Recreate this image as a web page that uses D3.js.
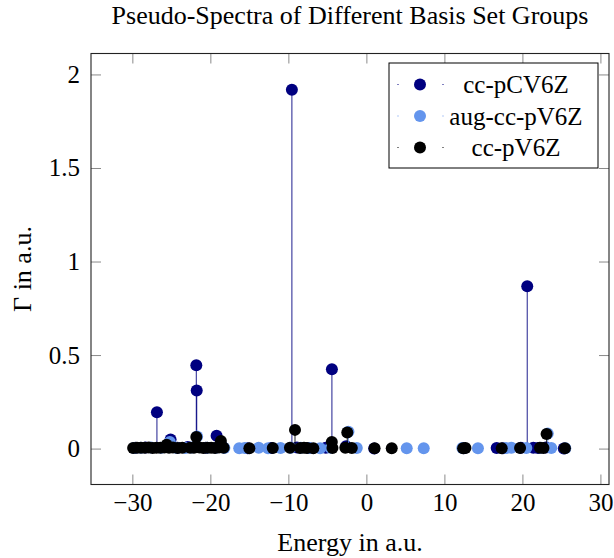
<!DOCTYPE html>
<html>
<head>
<meta charset="utf-8">
<script src="https://cdn.jsdelivr.net/npm/d3@7"></script>
<style>
  html, body { margin: 0; padding: 0; background: #fff; }
  svg text { font-family: "Liberation Serif", "DejaVu Serif", serif; fill: #000; }
</style>
</head>
<body>
<svg id="chart" width="614" height="558"></svg>
<script>
// ---------------- data ----------------
const seriesNames = ["cc-pCV6Z", "aug-cc-pV6Z", "cc-pV6Z"];

const pcv6zX = [-29.6, -28.3, -26.85, -25.1, -24.2, -22.9, -21.8, -21.75, -20.6, -19.2, -18.5, -15.2, -12.2, -9.55, -8.9, -7.4, -5.2, -4.42, -2.6, 1.0, 12.5, 16.7, 17.5, 19.8, 20.62, 21.4, 22.0, 23.0, 25.3];
const pcv6zY = [0.004, 0.006, 0.194, 0.048, 0.005, 0.008, 0.445, 0.310, 0.004, 0.068, 0.012, 0.002, 0.003, 1.918, 0.006, 0.003, 0.004, 0.424, 0.012, 0.001, 0.002, 0.003, 0.002, 0.004, 0.868, 0.005, 0.003, 0.006, 0.001];

const augX = [-29.8, -28.9, -27.6, -26.3, -25.2, -24.4, -23.2, -22.4, -21.7, -20.4, -19.3, -18.2, -16.3, -15.6, -13.8, -12.6, -11.0, -9.7, -8.4, -7.3, -5.93, -4.6, -2.3, -1.23, 5.17, 7.35, 12.3, 14.3, 17.9, 18.6, 20.5, 22.4, 23.25, 23.7, 25.5];
const augY = [0.003, 0.004, 0.006, 0.005, 0.035, 0.004, 0.003, 0.006, 0.064, 0.004, 0.005, 0.003, 0.002, 0.003, 0.004, 0.002, 0.003, 0.005, 0.004, 0.003, 0.002, 0.004, 0.090, 0.003, 0.002, 0.002, 0.003, 0.002, 0.003, 0.004, 0.003, 0.004, 0.080, 0.003, 0.002];

const pv6zX = [-29.9, -29.4, -28.9, -28.4, -27.9, -27.4, -26.9, -26.4, -25.9, -25.6, -25.3, -24.8, -24.2, -23.6, -22.6, -22.1, -21.8, -21.4, -20.9, -20.4, -19.9, -19.4, -18.9, -18.65, -18.3, -15.0, -12.0, -9.8, -9.15, -8.5, -8.0, -7.6, -6.8, -4.43, -4.35, -2.7, -2.45, -1.87, 1.05, 3.25, 12.4, 12.7, 17.35, 19.7, 22.25, 22.7, 23.1, 25.45];
const pv6zY = [0.003, 0.004, 0.005, 0.004, 0.006, 0.003, 0.005, 0.004, 0.006, 0.020, 0.004, 0.006, 0.003, 0.004, 0.005, 0.004, 0.062, 0.006, 0.003, 0.004, 0.005, 0.003, 0.006, 0.041, 0.004, 0.002, 0.003, 0.004, 0.100, 0.003, 0.004, 0.003, 0.002, 0.035, 0.003, 0.004, 0.086, 0.003, 0.002, 0.002, 0.002, 0.003, 0.002, 0.003, 0.004, 0.003, 0.078, 0.002];

const xTicks = [-30, -20, -10, 0, 10, 20, 30];
const yTicks = [0, 0.5, 1, 1.5, 2];
const yTickLabels = ["0", "0.5", "1", "1.5", "2"];

const titleText = "Pseudo-Spectra of Different Basis Set Groups";
const xLabelText = "Energy in a.u.";
const yLabelText = "Γ in a.u.";

// ---------------- layout ----------------
const svg = d3.select("#chart");
const L = 91, R = 609, T = 53.5, B = 484.5;
const labelFont = 26, tickFont = 25, legendFont = 25;

const x = d3.scaleLinear().domain([-35.3, 31.1]).range([L, R]);
const y = d3.scaleLinear().domain([-0.192, 2.112]).range([B, T]);

const series = [
  { name: seriesNames[0], xs: pcv6zX, ys: pcv6zY, color: "#000080", stem: "#000080" },
  { name: seriesNames[1], xs: augX, ys: augY, color: "#6495ED", stem: "#6495ED" },
  { name: seriesNames[2], xs: pv6zX, ys: pv6zY, color: "#000000", stem: "#000000" }
];

svg.append("defs").append("clipPath").attr("id", "clip")
  .append("rect").attr("x", L).attr("y", T).attr("width", R - L).attr("height", B - T);

// axes (ticks inward, mirrored)
const tickColor = "#8a8a8a";
const gxB = svg.append("g").attr("transform", `translate(0,${B})`)
  .call(d3.axisBottom(x).tickValues(xTicks).tickSizeInner(-10).tickSizeOuter(0).tickPadding(9)
        .tickFormat(d => d < 0 ? "\u2212" + Math.abs(d) : String(d)));
const gxT = svg.append("g").attr("transform", `translate(0,${T})`)
  .call(d3.axisTop(x).tickValues(xTicks).tickSizeInner(-10).tickSizeOuter(0).tickFormat(""));
const gyL = svg.append("g").attr("transform", `translate(${L},0)`)
  .call(d3.axisLeft(y).tickValues(yTicks).tickSizeInner(-10).tickSizeOuter(0).tickPadding(11)
        .tickFormat((d, i) => yTickLabels[i]));
const gyR = svg.append("g").attr("transform", `translate(${R},0)`)
  .call(d3.axisRight(y).tickValues(yTicks).tickSizeInner(-10).tickSizeOuter(0).tickFormat(""));

[gxB, gxT, gyL, gyR].forEach(g => {
  g.select(".domain").remove();
  g.selectAll(".tick line").attr("stroke", tickColor).attr("stroke-width", 1);
  g.selectAll(".tick text").attr("font-size", tickFont).attr("font-family", "Liberation Serif").attr("fill", "#000");
});

// data: stems + marks per series
const plot = svg.append("g").attr("clip-path", "url(#clip)");
series.forEach(s => {
  const pts = s.xs.map((v, i) => ({ x: v, y: s.ys[i] }));
  const g = plot.append("g");
  g.selectAll("line").data(pts).enter().append("line")
    .attr("x1", d => x(d.x)).attr("x2", d => x(d.x))
    .attr("y1", y(0)).attr("y2", d => y(d.y))
    .attr("stroke", s.stem).attr("stroke-opacity", 0.8).attr("stroke-width", 1.1);
  g.selectAll("circle").data(pts).enter().append("circle")
    .attr("cx", d => x(d.x)).attr("cy", d => y(d.y)).attr("r", 6)
    .attr("fill", s.color);
});

// frame
svg.append("rect").attr("x", L).attr("y", T).attr("width", R - L).attr("height", B - T)
  .attr("fill", "none").attr("stroke", "#222").attr("stroke-width", 1.1);

// title & labels
svg.append("text").attr("x", (L + R) / 2).attr("y", 24).attr("text-anchor", "middle")
  .attr("font-size", labelFont).text(titleText);
svg.append("text").attr("x", (L + R) / 2).attr("y", 551).attr("text-anchor", "middle")
  .attr("font-size", labelFont).text(xLabelText);
svg.append("text").attr("transform", `translate(22,${(T + B) / 2}) rotate(-90)`)
  .attr("text-anchor", "middle").attr("dominant-baseline", "central")
  .attr("font-size", labelFont).text(yLabelText);

// legend
const lg = svg.append("g");
lg.append("rect").attr("x", 389).attr("y", 63).attr("width", 209).attr("height", 105)
  .attr("fill", "#fff").attr("stroke", "#000").attr("stroke-width", 1);
const rowY = [84.5, 116, 147.5];
series.forEach((s, i) => {
  lg.append("rect").attr("x", 397.5).attr("y", rowY[i] - 0.5).attr("width", 1).attr("height", 1).attr("fill", s.color);
  lg.append("rect").attr("x", 442.5).attr("y", rowY[i] - 0.5).attr("width", 1).attr("height", 1).attr("fill", s.color);
  lg.append("circle").attr("cx", 420).attr("cy", rowY[i]).attr("r", 6).attr("fill", s.color);
  lg.append("text").attr("x", 516).attr("y", rowY[i]).attr("text-anchor", "middle")
    .attr("dominant-baseline", "central").attr("font-size", legendFont).text(s.name);
});
</script>
</body>
</html>
